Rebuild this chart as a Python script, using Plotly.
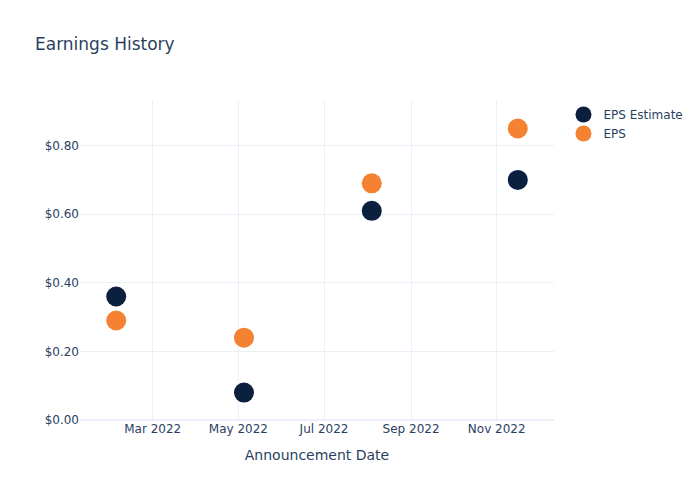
import plotly.graph_objects as go

dates = ["2022-02-03", "2022-05-05", "2022-08-04", "2022-11-16"]
eps_estimate = [0.36, 0.08, 0.61, 0.70]
eps_actual = [0.29, 0.24, 0.69, 0.85]

fig = go.Figure()
fig.add_trace(go.Scatter(x=dates, y=eps_estimate, mode="markers", name="EPS Estimate",
                         marker=dict(color="#0B1F3F", size=20)))
fig.add_trace(go.Scatter(x=dates, y=eps_actual, mode="markers", name="EPS",
                         marker=dict(color="#F58233", size=20)))
fig.update_layout(
    template="plotly_white",
    width=700, height=500,
    title=dict(text="Earnings History"),
    xaxis=dict(title=dict(text="Announcement Date")),
    yaxis=dict(tickprefix="$", tickformat=".2f", rangemode="tozero"),
    font=dict(family="DejaVu Sans, Open Sans, sans-serif"),
)
fig.write_html("out.html", config={"displayModeBar": False},
               post_script="document.body.style.margin='0';")
